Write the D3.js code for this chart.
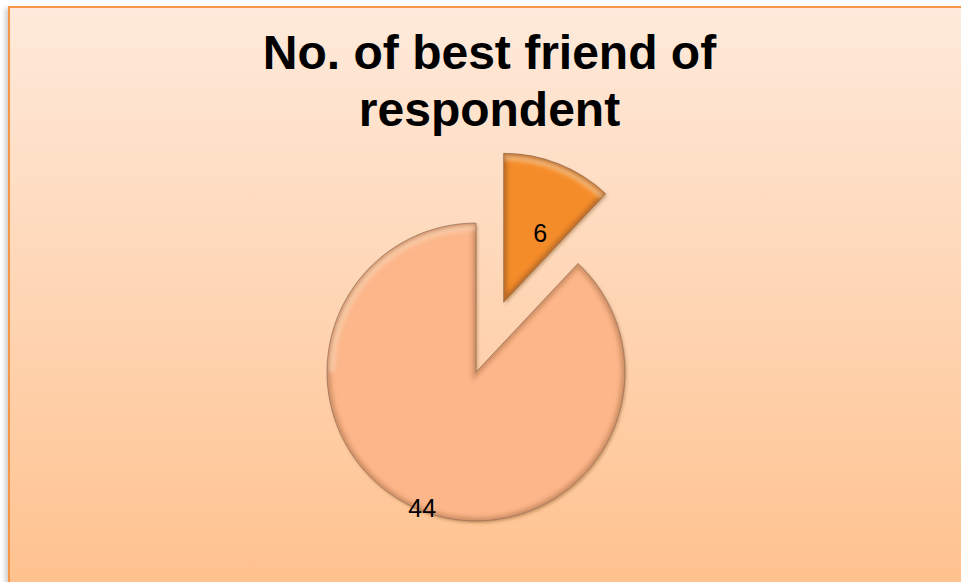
<!DOCTYPE html>
<html>
<head>
<meta charset="utf-8">
<script src="https://cdn.jsdelivr.net/npm/d3@7"></script>
<style>
  html, body { margin: 0; padding: 0; background: #ffffff; }
  svg { display: block; }
</style>
</head>
<body>
<script>
// Chart data
const title = ["No. of best friend of", "respondent"];
const values = [6, 44];
const sliceColors = [
  { top: "#F58C2C", bottom: "#DC741C" },
  { top: "#FCB68A", bottom: "#E49C70" }
];
const explodedIndex = 0;

const W = 961, H = 582;
const svg = d3.select("body").append("svg")
  .attr("width", W).attr("height", H);

const defs = svg.append("defs");

// Frame background gradient
const bg = defs.append("linearGradient").attr("id", "bg")
  .attr("x1", 0).attr("y1", 0).attr("x2", 0).attr("y2", 1);
bg.append("stop").attr("offset", "0%").attr("stop-color", "#FEEADB");
bg.append("stop").attr("offset", "100%").attr("stop-color", "#FFC08B");

// Frame shadow
const fs = defs.append("filter").attr("id", "frameShadow")
  .attr("x", "-5%").attr("y", "-5%").attr("width", "110%").attr("height", "110%");
fs.append("feDropShadow").attr("dx", -3).attr("dy", 2).attr("stdDeviation", 2)
  .attr("flood-color", "#000").attr("flood-opacity", 0.18);

// Slice shadow
const ss = defs.append("filter").attr("id", "sliceShadow")
  .attr("x", "-20%").attr("y", "-20%").attr("width", "140%").attr("height", "140%");
ss.append("feDropShadow").attr("dx", 1.5).attr("dy", 2).attr("stdDeviation", 1.5)
  .attr("flood-color", "#6b3a10").attr("flood-opacity", 0.35);

// Soft blur for bevel edges
defs.append("filter").attr("id", "soft")
  .append("feGaussianBlur").attr("stdDeviation", 2.2);

sliceColors.forEach((c, i) => {
  const g = defs.append("linearGradient").attr("id", "slice" + i)
    .attr("gradientUnits", "userSpaceOnUse")
    .attr("x1", 0).attr("y1", i === 0 ? 150 : 222)
    .attr("x2", 0).attr("y2", i === 0 ? 302 : 522);
  g.append("stop").attr("offset", "0%").attr("stop-color", c.top);
  g.append("stop").attr("offset", "100%").attr("stop-color", c.bottom);
});

// Frame
svg.append("rect")
  .attr("x", 9).attr("y", 7).attr("width", W + 20).attr("height", H + 20)
  .attr("fill", "url(#bg)")
  .attr("stroke", "#F79646").attr("stroke-width", 2)
  .attr("filter", "url(#frameShadow)");

// Title
svg.append("text")
  .attr("text-anchor", "middle")
  .attr("font-family", "Liberation Sans, Arial, sans-serif")
  .attr("font-weight", "bold")
  .attr("font-size", 48)
  .attr("fill", "#000")
  .selectAll("tspan").data(title).join("tspan")
  .attr("x", 489.5)
  .attr("y", (d, i) => 69 + i * 57)
  .text(d => d);

// Pie
const cx = 476, cy = 372, r = 149, explode = 75;
const pie = d3.pie().sort(null).value(d => d);
const arcs = pie(values);
const arc = d3.arc().innerRadius(0).outerRadius(r);

function offset(d, i) {
  if (i !== explodedIndex) return [0, 0];
  const a = (d.startAngle + d.endAngle) / 2;
  return [Math.sin(a) * explode, -Math.cos(a) * explode];
}

const slices = svg.append("g").attr("transform", `translate(${cx},${cy})`)
  .selectAll("g.slice").data(arcs).join("g")
  .attr("class", "slice")
  .attr("transform", (d, i) => {
    const [dx, dy] = offset(d, i);
    return `translate(${dx},${dy})`;
  });

slices.each(function (d, i) {
  const g = d3.select(this);
  const clipId = "clip" + i;
  defs.append("clipPath").attr("id", clipId)
    .append("path").attr("d", arc(d));

  g.append("path")
    .attr("d", arc(d))
    .attr("fill", `url(#slice${i})`)
    .attr("filter", "url(#sliceShadow)");

  // bevel: darker rim and a pale highlight along the top of the rim
  const inner = g.append("g").attr("clip-path", `url(#${clipId})`);
  inner.append("path")
    .attr("d", arc(d))
    .attr("fill", "none")
    .attr("stroke", "#7a4420")
    .attr("stroke-opacity", i === 0 ? 0.45 : 0.35)
    .attr("stroke-width", 7)
    .attr("filter", "url(#soft)");
  const hl = d3.arc().innerRadius(r - 7).outerRadius(r - 2);
  const hs = i === 0 ? d.startAngle : Math.max(d.startAngle, 1.5 * Math.PI);
  const he = i === 0 ? d.endAngle : 2 * Math.PI;
  inner.append("path")
    .attr("d", hl({ startAngle: hs, endAngle: he }))
    .attr("fill", "#fff6e0")
    .attr("fill-opacity", 0.45)
    .attr("filter", "url(#soft)");

  g.append("path")
    .attr("d", arc(d))
    .attr("fill", "none")
    .attr("stroke", "#6e5546")
    .attr("stroke-opacity", 0.55)
    .attr("stroke-width", 0.9);
});

// Value labels
const labelArcSmall = d3.arc().innerRadius(r * 0.52).outerRadius(r * 0.52);
const labelArcLarge = d3.arc().innerRadius(r * 0.98).outerRadius(r * 0.98);
slices.append("text")
  .attr("transform", (d, i) => {
    const a = i === explodedIndex ? labelArcSmall : labelArcLarge;
    let [x, y] = a.centroid(d);
    if (i === explodedIndex) { x += 8; y += 3; }
    return `translate(${x},${y})`;
  })
  .attr("text-anchor", "middle")
  .attr("dy", "0.35em")
  .attr("font-family", "Liberation Sans, Arial, sans-serif")
  .attr("font-size", 25)
  .attr("fill", "#000")
  .text(d => d.data);
</script>
</body>
</html>
